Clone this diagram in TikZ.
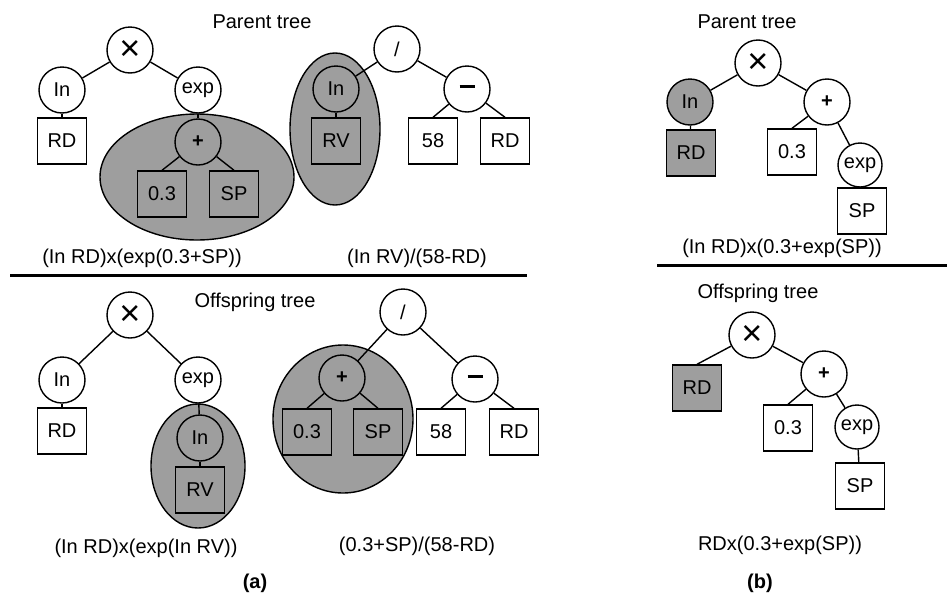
\documentclass[tikz,border=0pt]{standalone}
\usepackage{fontspec}
\setmainfont{Liberation Sans}
\usetikzlibrary{shapes.geometric}
\definecolor{treegray}{RGB}{158,158,158}
\newcommand{\bigtimes}{{\fontsize{36}{36}\selectfont ×}}
\newcommand{\longminus}{\rule[5pt]{15pt}{2.4pt}}
\tikzset{
  op/.style={draw, circle, line width=1.4pt, minimum size=46pt, inner sep=0pt, fill=white, font=\fontsize{20}{22}\selectfont},
  opg/.style={op, fill=treegray},
  opt/.style={op, fill=none},
  leaf/.style={draw, rectangle, line width=1.4pt, minimum width=49pt, minimum height=46pt, inner sep=0pt, fill=white, font=\fontsize{20}{22}\selectfont},
  leafg/.style={leaf, fill=treegray},
  leaft/.style={leaf, fill=none},
  link/.style={line width=1.4pt},
  blob/.style={draw, line width=1.4pt, fill=treegray},
  lbl/.style={font=\fontsize{20}{22}\selectfont, inner sep=0pt}
}
\begin{document}
\begin{tikzpicture}[x=1pt,y=-1pt]
\useasboundingbox (0,0) rectangle (947,592);
% ---------- background blobs ----------
\draw[blob] (197,177) ellipse [x radius=97, y radius=63];
\draw[blob] (335,129) ellipse [x radius=45, y radius=76];
\draw[blob] (198,466) ellipse [x radius=47, y radius=62];
\draw[blob] (343,419) ellipse [x radius=70, y radius=74];
% ---------- separators ----------
\draw[line width=3pt] (10,275) -- (527,275);
\draw[line width=3pt] (657,265) -- (947,265);
% ---------- titles ----------
\node[lbl] (t1) at (262,22) {Parent tree};
\node[lbl] (t2) at (255,302) {Offspring tree};
\node[lbl] (t3) at (747,22) {Parent tree};
\node[lbl] (t4) at (758,293) {Offspring tree};
% ---------- top-left tree ----------
\node[op] (tlx) at (130,50) {\bigtimes};
\node[op] (tlln) at (62,90) {In};
\node[op] (tlexp) at (198,90) {exp};
\node[leaf] (tlrd) at (62,141) {RD};
\node[opt] (tlplus) at (198,142) {\textbf{+}};
\node[leaft] (tl03) at (162,194) {0.3};
\node[leaft] (tlsp) at (234,194) {SP};
\draw[link] (tlx) -- (tlln);
\draw[link] (tlx) -- (tlexp);
\draw[link] (tlln) -- (tlrd);
\draw[link] (tlexp) -- (tlplus);
\draw[link] (tlplus) -- (tl03.north);
\draw[link] (tlplus) -- (tlsp.north);
\node[lbl] (tlf) at (142,258) {(In RD)x(exp(0.3+SP))};
% ---------- top-middle tree ----------
\node[op] (tmdiv) at (397,49) {/};
\node[opt] (tmln) at (336,89) {In};
\node[op] (tmminus) at (467,89) {\longminus};
\node[leaft] (tmrv) at (336,141) {RV};
\node[leaf] (tm58) at (433,141) {58};
\node[leaf] (tmrd) at (505,141) {RD};
\draw[link] (tmdiv) -- (tmln);
\draw[link] (tmdiv) -- (tmminus);
\draw[link] (tmln) -- (tmrv);
\draw[link] (tmminus) -- (tm58.north);
\draw[link] (tmminus) -- (tmrd.north);
\node[lbl] (tmf) at (417,258) {(In RV)/(58-RD)};
% ---------- top-right tree ----------
\node[op] (trx) at (758,63) {\bigtimes};
\node[opg] (trln) at (690,102) {In};
\node[op] (trplus) at (827,102) {\textbf{+}};
\node[leafg] (trrd) at (691,153) {RD};
\node[leaf] (tr03) at (792,152) {0.3};
\node[op, minimum size=44pt] (trexp) at (860,165) {exp};
\node[leaf] (trsp) at (862,211) {SP};
\draw[link] (trx) -- (trln);
\draw[link] (trx) -- (trplus);
\draw[link] (trln) -- (trrd);
\draw[link] (trplus) -- (tr03.north);
\draw[link] (trplus) -- (trexp);
\draw[link] (trexp) -- (trsp);
\node[lbl] (trf) at (782,248) {(In RD)x(0.3+exp(SP))};
% ---------- bottom-left tree ----------
\node[op] (blx) at (130,315) {\bigtimes};
\node[op] (blln) at (62,380) {In};
\node[op] (blexp) at (198,380) {exp};
\node[leaf] (blrd) at (62,431) {RD};
\node[opt] (blln2) at (200,438) {In};
\node[leaft] (blrv) at (200,490) {RV};
\draw[link] (blx) -- (blln);
\draw[link] (blx) -- (blexp);
\draw[link] (blln) -- (blrd);
\draw[link] (blexp) -- (blln2);
\draw[link] (blln2) -- (blrv);
\node[lbl] (blf) at (146,548) {(In RD)x(exp(In RV))};
\node[lbl] (capa) at (255,583) {\textbf{(a)}};
% ---------- bottom-middle tree ----------
\node[op] (bmdiv) at (403,312) {/};
\node[opt] (bmplus) at (342,378) {\textbf{+}};
\node[op] (bmminus) at (475,379) {\longminus};
\node[leaft] (bm03) at (307,432) {0.3};
\node[leaft] (bmsp) at (378,432) {SP};
\node[leaf] (bm58) at (441,432) {58};
\node[leaf] (bmrd) at (514,432) {RD};
\draw[link] (bmdiv) -- (bmplus);
\draw[link] (bmdiv) -- (bmminus);
\draw[link] (bmplus) -- (bm03.north);
\draw[link] (bmplus) -- (bmsp.north);
\draw[link] (bmminus) -- (bm58.north);
\draw[link] (bmminus) -- (bmrd.north);
\node[lbl] (bmf) at (417,546) {(0.3+SP)/(58-RD)};
% ---------- bottom-right tree ----------
\node[op] (brx) at (752,335) {\bigtimes};
\node[leafg] (brrd) at (697,388) {RD};
\node[op] (brplus) at (824,374) {\textbf{+}};
\node[leaf] (br03) at (788,428) {0.3};
\node[op, minimum size=44pt] (brexp) at (857,427) {exp};
\node[leaf] (brsp) at (860,486) {SP};
\draw[link] (brx) -- (brrd.north);
\draw[link] (brx) -- (brplus);
\draw[link] (brplus) -- (br03.north);
\draw[link] (brplus) -- (brexp);
\draw[link] (brexp) -- (brsp);
\node[lbl] (brf) at (780,545) {RDx(0.3+exp(SP))};
\node[lbl] (capb) at (760,583) {\textbf{(b)}};
\end{tikzpicture}
\end{document}
